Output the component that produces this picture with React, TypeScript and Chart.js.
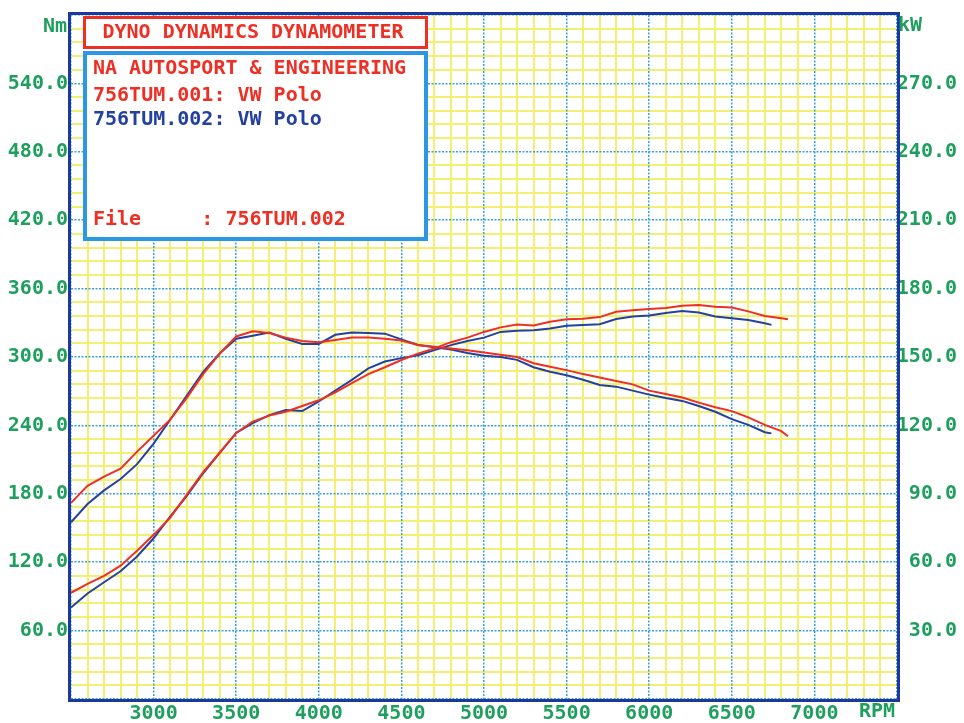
import React, { useEffect, useRef } from 'react';
import { Chart, registerables } from 'chart.js';

Chart.register(...registerables);

// ---- Data (read from the dyno sheet) ----
const rpm001 = [2500, 2600, 2700, 2800, 2900, 3000, 3100, 3200, 3300, 3400, 3500, 3600, 3700, 3800, 3900, 4000, 4100, 4200, 4300, 4400, 4500, 4600, 4700, 4800, 4900, 5000, 5100, 5200, 5300, 5400, 5500, 5600, 5700, 5800, 5900, 6000, 6100, 6200, 6300, 6400, 6500, 6600, 6700, 6800, 6840];
const torque001 = [172, 187, 195, 202, 217, 231, 245, 264, 285, 303, 318, 322.5, 321, 317, 314, 313, 315, 317, 317, 316, 314.5, 310.5, 309, 307.5, 306, 304, 302, 300, 294.5, 291.5, 288.5, 285, 282, 279, 276, 270.5, 267.5, 264.5, 260, 256, 252.5, 247, 240.5, 235, 230.5];
const power001 = [46.6, 50.5, 54, 58.5, 65, 72, 79.5, 89.5, 99.5, 108, 116.7, 121.7, 124.3, 126, 128.5, 131, 134.5, 138.5, 142.5, 145.5, 148.7, 151.5, 153.8, 156.5, 158.5, 161, 163, 164.3, 163.8, 165.5, 166.6, 166.8, 167.5, 169.8, 170.5, 171, 171.5, 172.5, 172.8, 172, 171.7, 170, 168, 167, 166.6];

const rpm002 = [2500, 2600, 2700, 2800, 2900, 3000, 3100, 3200, 3300, 3400, 3500, 3600, 3700, 3800, 3900, 4000, 4100, 4200, 4300, 4400, 4500, 4600, 4700, 4800, 4900, 5000, 5100, 5200, 5300, 5400, 5500, 5600, 5700, 5800, 5900, 6000, 6100, 6200, 6300, 6400, 6500, 6600, 6700, 6740];
const torque002 = [155, 171, 183, 193, 206, 224, 245, 266, 287, 303, 316, 318.7, 321.5, 316, 311.5, 311.5, 319.5, 321.5, 321, 320.5, 315.5, 310.5, 308.5, 306.5, 303.5, 301, 300, 297.5, 291, 287, 284, 280, 275.5, 274, 270.5, 267, 264, 261.5, 257, 252, 245.5, 240.5, 234, 233];
const power002 = [40.1, 46.3, 51.2, 56, 62.5, 70.5, 80, 89, 99, 108, 116.7, 121, 124.5, 126.7, 126.3, 130.5, 135.3, 140, 145, 148, 149.5, 150.8, 153, 155.2, 157, 158.5, 161, 161.5, 161.7, 162.5, 163.7, 164, 164.4, 166.7, 167.8, 168.2, 169.3, 170.2, 169.5, 167.8, 167, 166.2, 164.8, 164.1];

const rpmLabels = [3000, 3500, 4000, 4500, 5000, 5500, 6000, 6500, 7000];
const nmLabels = [60, 120, 180, 240, 300, 360, 420, 480, 540];
const kwLabels = [30, 60, 90, 120, 150, 180, 210, 240, 270];

const titleText = 'DYNO DYNAMICS DYNAMOMETER';
const infoLine1 = 'NA AUTOSPORT & ENGINEERING';
const infoLine2 = '756TUM.001: VW Polo';
const infoLine3 = '756TUM.002: VW Polo';
const fileLine = 'File     : 756TUM.002';

// ---- Styles ----
const FONT = '"DejaVu Sans Mono", monospace';
const GREEN = '#1f9f5e';
const RED = '#ee3024';
const BLUE = '#2441a0';
const FRAME = '#1c389c';
const MAJOR = '#3a9fdc';
const MINOR = '#f3ef72';
const CLEAR = 'rgba(0,0,0,0)';

const xy = (xs: number[], ys: number[]) => xs.map((x, i) => ({ x, y: ys[i] }));

const overlay = {
  id: 'dynoOverlay',
  afterDraw(chart: any) {
    const { ctx, chartArea: a } = chart;
    ctx.save();
    // plot frame
    ctx.strokeStyle = FRAME;
    ctx.lineWidth = 3;
    ctx.strokeRect(a.left - 1.5, a.top - 1.5, a.right - a.left + 3, a.bottom - a.top + 3);

    // unit labels
    ctx.font = `bold 20px ${FONT}`;
    ctx.fillStyle = GREEN;
    ctx.textBaseline = 'middle';
    ctx.textAlign = 'right';
    ctx.fillText('Nm', a.left - 4, a.top + 12);
    ctx.textAlign = 'left';
    ctx.fillText('kW', a.right + 1, a.top + 11);
    ctx.textAlign = 'right';
    ctx.fillText('RPM', a.right - 2, a.bottom + 13);

    // legend boxes
    ctx.fillStyle = '#ffffff';
    ctx.fillRect(83, 16, 345, 225);
    ctx.strokeStyle = RED;
    ctx.lineWidth = 3;
    ctx.strokeRect(84.5, 17.5, 342, 30);
    ctx.strokeStyle = '#2a98e2';
    ctx.lineWidth = 4;
    ctx.strokeRect(85, 53, 341, 186);

    ctx.textBaseline = 'middle';
    ctx.textAlign = 'center';
    ctx.fillStyle = RED;
    ctx.font = `bold 20px ${FONT}`;
    ctx.fillText(titleText, 253, 33);

    ctx.textAlign = 'left';
    ctx.fillText(infoLine1, 93, 69);
    ctx.fillText(infoLine2, 93, 96);
    ctx.fillStyle = BLUE;
    ctx.fillText(infoLine3, 93, 120);
    ctx.fillStyle = RED;
    ctx.fillText(fileLine, 93, 220);
    ctx.restore();
  },
};

export default function App() {
  const ref = useRef<HTMLCanvasElement | null>(null);

  useEffect(() => {
    document.body.style.margin = '0';
    const canvas = ref.current;
    if (!canvas) return;
    const tickFont = { family: FONT, size: 20, weight: 'bold' as const };
    const chart = new Chart(canvas, {
      type: 'line',
      data: {
        datasets: [
          { label: 'Torque 001', data: xy(rpm001, torque001), yAxisID: 'y', borderColor: RED, borderWidth: 2, pointRadius: 0, tension: 0 },
          { label: 'Power 001', data: xy(rpm001, power001), yAxisID: 'y1', borderColor: RED, borderWidth: 2, pointRadius: 0, tension: 0 },
          { label: 'Torque 002', data: xy(rpm002, torque002), yAxisID: 'y', borderColor: BLUE, borderWidth: 2, pointRadius: 0, tension: 0 },
          { label: 'Power 002', data: xy(rpm002, power002), yAxisID: 'y1', borderColor: BLUE, borderWidth: 2, pointRadius: 0, tension: 0 },
        ],
      },
      options: {
        animation: false,
        responsive: true,
        maintainAspectRatio: false,
        layout: { padding: { top: 8, left: 0, right: 7, bottom: 0 } },
        plugins: { legend: { display: false }, tooltip: { enabled: false } },
        scales: {
          x: {
            type: 'linear',
            position: 'bottom',
            min: 2500,
            max: 7500,
            ticks: {
              stepSize: 500,
              autoSkip: false,
              maxRotation: 0,
              padding: 3,
              color: GREEN,
              font: tickFont,
              callback: (v: any) => (rpmLabels.includes(Number(v)) ? String(v) : ''),
            },
            grid: { color: MAJOR, lineWidth: 1.5, drawTicks: false, z: -1 },
            border: { display: false, dash: [2, 1.5] },
            afterFit: (s: any) => { s.height = 24; },
          },
          xMinor: {
            type: 'linear',
            position: 'bottom',
            min: 2500,
            max: 7500,
            ticks: { stepSize: 100, display: false },
            grid: {
              color: (c: any) => (c.tick && Math.round(c.tick.value) % 500 === 0 ? CLEAR : MINOR),
              lineWidth: 2,
              drawTicks: false,
              z: -2,
            },
            border: { display: false },
            afterFit: (s: any) => { s.height = 0; },
          },
          y: {
            type: 'linear',
            position: 'left',
            min: 0,
            max: 600,
            ticks: {
              stepSize: 60,
              autoSkip: false,
              padding: 3,
              color: GREEN,
              font: tickFont,
              callback: (v: any) => (nmLabels.includes(Number(v)) ? Number(v).toFixed(1) : ''),
            },
            grid: { color: MAJOR, lineWidth: 1.5, drawTicks: false, z: -1 },
            border: { display: false, dash: [2, 1.5] },
            afterFit: (s: any) => { s.width = 71; },
          },
          yMinor: {
            type: 'linear',
            position: 'left',
            min: 0,
            max: 600,
            ticks: { stepSize: 12, display: false },
            grid: {
              color: (c: any) => (c.tick && Math.round(c.tick.value) % 60 === 0 ? CLEAR : MINOR),
              lineWidth: 2,
              drawTicks: false,
              z: -2,
            },
            border: { display: false },
            afterFit: (s: any) => { s.width = 0; },
          },
          y1: {
            type: 'linear',
            position: 'right',
            min: 0,
            max: 300,
            ticks: {
              stepSize: 30,
              autoSkip: false,
              padding: 1,
              crossAlign: 'far',
              color: GREEN,
              font: tickFont,
              callback: (v: any) => (kwLabels.includes(Number(v)) ? Number(v).toFixed(1) : ''),
            },
            grid: { drawOnChartArea: false, drawTicks: false },
            border: { display: false },
            afterFit: (s: any) => { s.width = 60; },
          },
        },
      },
      plugins: [overlay],
    });
    return () => chart.destroy();
  }, []);

  return (
    <div style={{ position: 'absolute', left: 0, top: 0, width: 964, height: 723, background: '#ffffff' }}>
      <canvas ref={ref} />
    </div>
  );
}
